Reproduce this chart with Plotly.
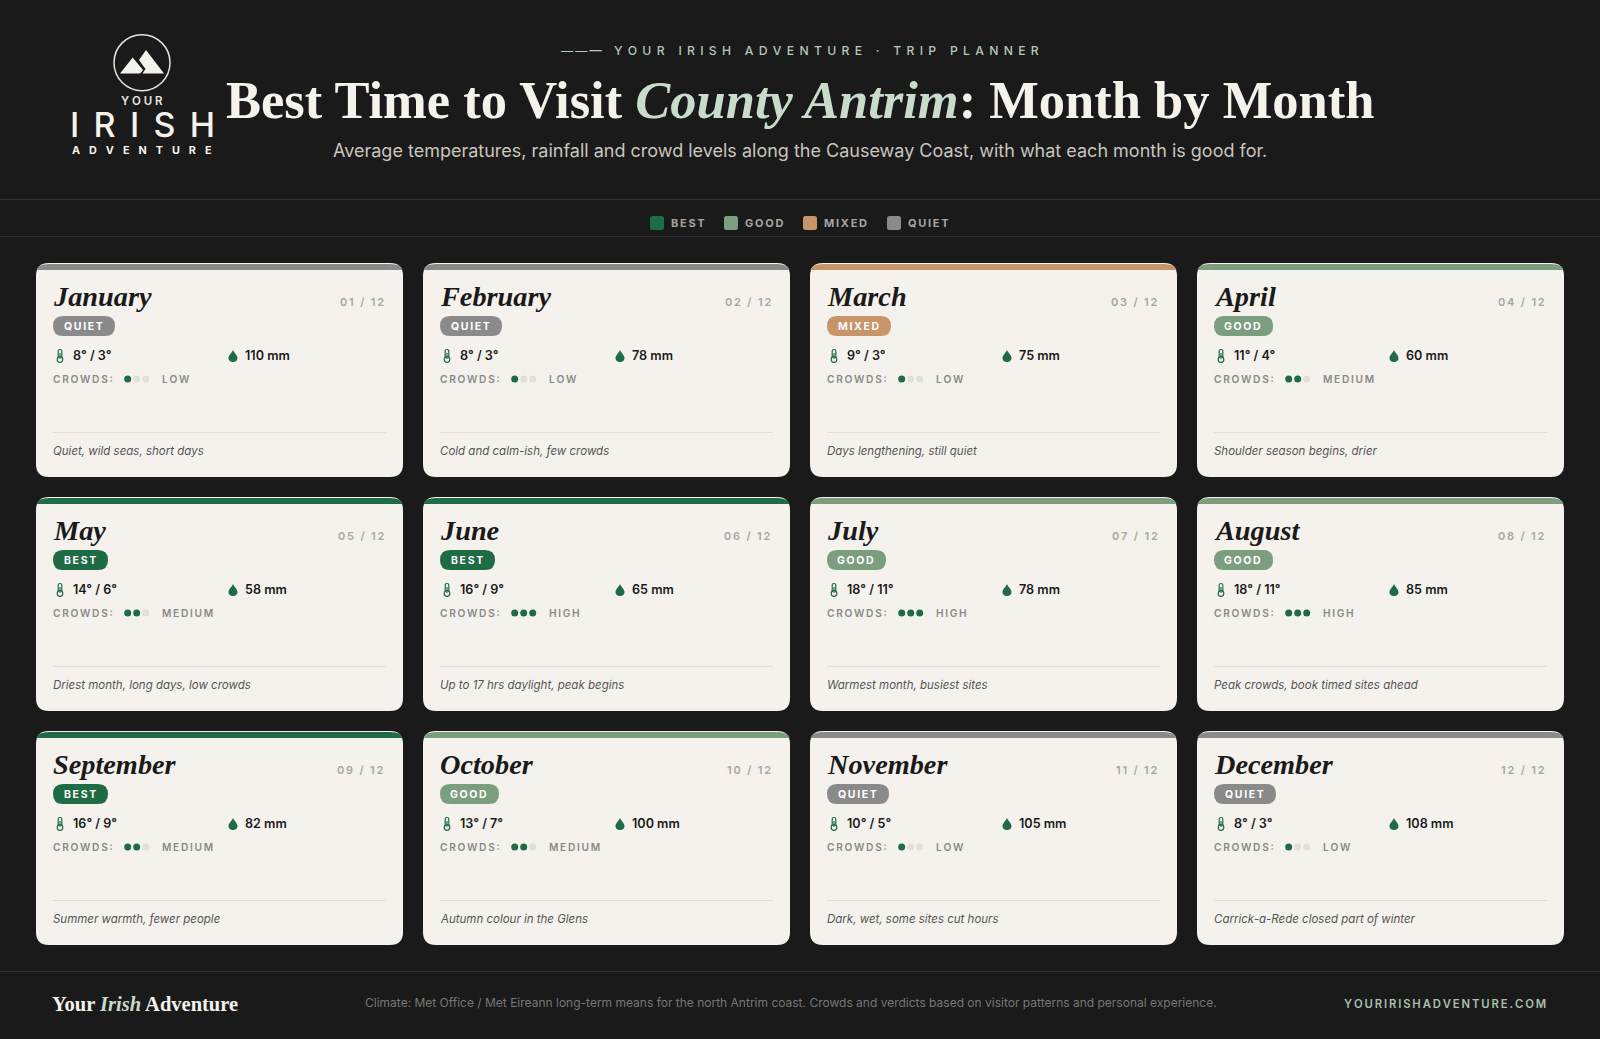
import plotly.graph_objects as go

# chart data
months = ["January", "February", "March", "April", "May", "June", "July",
          "August", "September", "October", "November", "December"]
verdicts = ["QUIET", "QUIET", "MIXED", "GOOD", "BEST", "BEST", "GOOD", "GOOD",
            "BEST", "GOOD", "QUIET", "QUIET"]
temp_high = [8, 8, 9, 11, 14, 16, 18, 18, 16, 13, 10, 8]
temp_low = [3, 3, 3, 4, 6, 9, 11, 11, 9, 7, 5, 3]
rain_mm = [110, 78, 75, 60, 58, 65, 78, 85, 82, 100, 105, 108]
crowd_levels = [1, 1, 1, 2, 2, 3, 3, 3, 2, 2, 1, 1]
crowd_names = ["LOW", "MEDIUM", "HIGH"]
notes = ["Quiet, wild seas, short days", "Cold and calm-ish, few crowds",
         "Days lengthening, still quiet", "Shoulder season begins, drier",
         "Driest month, long days, low crowds", "Up to 17 hrs daylight, peak begins",
         "Warmest month, busiest sites", "Peak crowds, book timed sites ahead",
         "Summer warmth, fewer people", "Autumn colour in the Glens",
         "Dark, wet, some sites cut hours", "Carrick-a-Rede closed part of winter"]
legend_names = ["BEST", "GOOD", "MIXED", "QUIET"]

BG = "#1a1a1a"
CARD = "#f5f2ed"
GREEN = "#1f6b45"
ACCENT = "#c9dccb"
verdict_colors = {"BEST": "#1f6b45", "GOOD": "#7a9e7e", "MIXED": "#c8956a", "QUIET": "#8a8a8a"}
badge_widths = {"BEST": 55, "GOOD": 59, "MIXED": 64, "QUIET": 62}
legend_x = [650, 724, 803, 887]

SANS = "Inter"
SERIF = "Liberation Serif"

shapes = []
annotations = []


def spaced(text, gap="\u2009"):
    # fake the css letter-spacing, plotly has no option for it
    return gap.join(text)


def label(x, y, text, size, color, anchor="left", family=SANS, weight=400, style="normal"):
    annotations.append(dict(x=x, y=y, xref="x", yref="y", text=text, showarrow=False,
                            xanchor=anchor, yanchor="middle", borderpad=0,
                            font=dict(family=family, size=size, color=color, weight=weight, style=style)))


def round_rect(x0, y0, x1, y1, r):
    return (f"M{x0 + r},{y0} L{x1 - r},{y0} Q{x1},{y0} {x1},{y0 + r} L{x1},{y1 - r} Q{x1},{y1} {x1 - r},{y1} "
            f"L{x0 + r},{y1} Q{x0},{y1} {x0},{y1 - r} L{x0},{y0 + r} Q{x0},{y0} {x0 + r},{y0} Z")


def add_path(path, fill=None, line=None, width=0):
    shapes.append(dict(type="path", path=path, xref="x", yref="y", layer="below",
                       fillcolor=fill or "rgba(0,0,0,0)",
                       line=dict(color=line or "rgba(0,0,0,0)", width=width)))


def add_rule(x0, x1, y, color):
    shapes.append(dict(type="line", x0=x0, x1=x1, y0=y, y1=y, xref="x", yref="y", layer="below",
                       line=dict(color=color, width=1)))


def add_circle(cx, cy, r, fill=None, line=None, width=0):
    shapes.append(dict(type="circle", x0=cx - r, x1=cx + r, y0=cy - r, y1=cy + r, xref="x", yref="y",
                       layer="below", fillcolor=fill or "rgba(0,0,0,0)",
                       line=dict(color=line or "rgba(0,0,0,0)", width=width)))


# header
add_circle(142, 62.7, 28, line="#e4e2de", width=1.5)
add_path("M120,73.5 L132.7,57.5 L143,70 L140,73.5 Z", fill="#f5f2ec")
add_path("M139,60 L146,50 L164,73.5 L142.5,73.5 L145.5,69 Z", fill="#f5f2ec")
label(142, 101, spaced("YOUR", "\u2009\u200a"), 11.5, "#e8e6e2", anchor="center", weight=600)
label(142, 124, spaced("IRISH", "\u2004\u200a"), 34, "#f5f2ec", anchor="center", weight=500)
label(142, 150, spaced("ADVENTURE", "\u2002\u2004"), 10.8, "#f5f2ec", anchor="center", weight=700)

label(799.5, 50, "\u2014\u2009\u2014\u2009\u2014\u2003" + spaced("YOUR IRISH ADVENTURE \u00b7 TRIP PLANNER", "\u2009\u2009\u200a"),
      12.2, "#b4c9b6", anchor="center", weight=500)
label(800, 100, f"Best Time to Visit <i><span style='color:{ACCENT}'>County Antrim</span></i>: Month by Month",
      52.5, "#f5f2ec", anchor="center", family=SERIF, weight=700)
label(800, 150, "Average temperatures, rainfall and crowd levels along the Causeway Coast, with what each month is good for.",
      18, "#c8c5be", anchor="center")

add_rule(0, 1600, 199.5, "#333333")
add_rule(0, 1600, 236.5, "#2c2c2c")
for name, x in zip(legend_names, legend_x):
    add_path(round_rect(x, 216, x + 14, 230, 2.5), fill=verdict_colors[name])
    label(x + 20, 223, spaced(name), 11, "#a8a5a0", weight=700)

# month cards
dot_x, dot_y, dot_c = [], [], []
for i, month in enumerate(months):
    x0 = 36 + (i % 4) * 387
    y0 = 263 + (i // 4) * 234
    x1, y1 = x0 + 367, y0 + 214
    color = verdict_colors[verdicts[i]]
    add_path(round_rect(x0, y0, x1, y1, 13), fill=CARD)
    add_path(f"M{x0 + 0.5},{y0 + 7} Q{x0 + 2},{y0 + 1} {x0 + 13},{y0 + 1} L{x1 - 13},{y0 + 1} "
             f"Q{x1 - 2},{y0 + 1} {x1 - 0.5},{y0 + 7} Z", fill=color)

    label(x0 + 16, y0 + 33, f"<i>{month}</i>", 28.3, "#1a1a1a", family=SERIF, weight=700)
    label(x1 - 18, y0 + 39, spaced(f"{i + 1:02d} / 12"), 11, "#a8a69f", anchor="right", weight=600)

    add_path(round_rect(x0 + 17, y0 + 53, x0 + 17 + badge_widths[verdicts[i]], y0 + 73, 10), fill=color)
    label(x0 + 16 + badge_widths[verdicts[i]] / 2, y0 + 63, spaced(verdicts[i]), 10.5, "#ffffff",
          anchor="center", weight=700)

    # thermometer
    tx, ty = x0 + 24, y0 + 96
    add_path(f"M{tx - 1.8},{ty - 8} Q{tx - 1.8},{ty - 9.5} {tx},{ty - 9.5} Q{tx + 1.8},{ty - 9.5} {tx + 1.8},{ty - 8} "
             f"L{tx + 1.8},{ty - 1}", line=GREEN, width=1.2)
    add_path(f"M{tx - 1.8},{ty - 8} L{tx - 1.8},{ty - 1}", line=GREEN, width=1.2)
    add_circle(tx, ty + 0.5, 2.8, line=GREEN, width=1.2)
    add_path(f"M{tx},{ty - 6} L{tx},{ty}", line=GREEN, width=1.2)
    label(x0 + 36, y0 + 92, f"{temp_high[i]}\u00b0 / {temp_low[i]}\u00b0", 12.6, "#1a1a1a", weight=600)

    # raindrop
    rx, ry = x0 + 197, y0 + 87
    add_path(f"M{rx},{ry} C{rx + 1},{ry + 3} {rx + 4.5},{ry + 5} {rx + 4.5},{ry + 8} "
             f"C{rx + 4.5},{ry + 11} {rx + 2},{ry + 12} {rx},{ry + 12} "
             f"C{rx - 2},{ry + 12} {rx - 4.5},{ry + 11} {rx - 4.5},{ry + 8} "
             f"C{rx - 4.5},{ry + 5} {rx - 1},{ry + 3} {rx},{ry} Z", fill=GREEN)
    label(x0 + 208, y0 + 92, f"{rain_mm[i]} mm", 12.6, "#1a1a1a", weight=600)

    label(x0 + 16, y0 + 116, spaced("CROWDS:"), 10.2, "#8a8a85", weight=600)
    for d in range(3):
        dot_x.append(x0 + 91.7 + d * 9)
        dot_y.append(y0 + 116)
        dot_c.append(GREEN if d < crowd_levels[i] else "#e2dfd6")
    label(x0 + 125, y0 + 116, spaced(crowd_names[crowd_levels[i] - 1]), 10.2, "#8a8a85", weight=600)

    add_rule(x0 + 17, x1 - 17, y0 + 169.5, "#e2dfd7")
    label(x0 + 15.5, y0 + 187.5, f"<i>{notes[i]}</i>", 11.5, "#555555")

# footer
add_rule(0, 1600, 971.5, "#333333")
label(51, 1004, f"Your <i><span style='color:{ACCENT}'>Irish</span></i> Adventure", 20.5, "#f5f2ec", family=SERIF, weight=600)
label(791, 1002, "Climate: Met Office / Met Eireann long-term means for the north Antrim coast. "
      "Crowds and verdicts based on visitor patterns and personal experience.", 12, "#777777", anchor="center")
label(1547, 1003.5, spaced("YOURIRISHADVENTURE.COM"), 11.3, "#a9c0ac", anchor="right", weight=600)

fig = go.Figure(go.Scatter(x=dot_x, y=dot_y, mode="markers", hoverinfo="skip",
                           marker=dict(size=7, color=dot_c, line=dict(width=0))))
fig.update_layout(width=1600, height=1039, margin=dict(l=0, r=0, t=0, b=0),
                  paper_bgcolor=BG, plot_bgcolor=BG, showlegend=False,
                  shapes=shapes, annotations=annotations,
                  xaxis=dict(range=[0, 1600], visible=False, fixedrange=True),
                  yaxis=dict(range=[1039, 0], visible=False, fixedrange=True))
# the default page has a body margin that pushes the figure off by 8px
fig.write_html("out.html", config={"displayModeBar": False},
               post_script="document.body.style.margin = '0';")
